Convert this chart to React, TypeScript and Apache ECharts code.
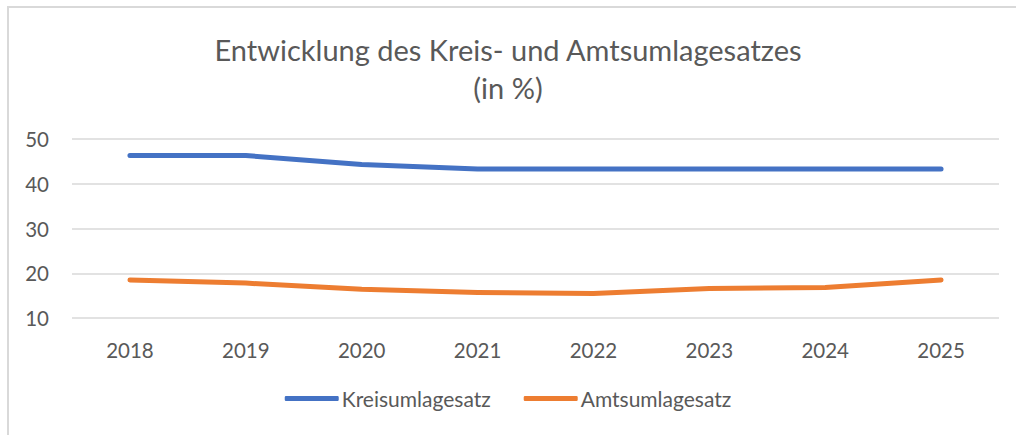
import React, { useEffect, useRef } from "react";
import * as echarts from "echarts";

const years = ["2018", "2019", "2020", "2021", "2022", "2023", "2024", "2025"];
const kreisumlagesatz = [46.3, 46.3, 44.3, 43.3, 43.3, 43.3, 43.3, 43.3];
const amtsumlagesatz = [18.5, 17.8, 16.4, 15.7, 15.5, 16.6, 16.8, 18.5];
const seriesNames = ["Kreisumlagesatz", "Amtsumlagesatz"];
const titleText = "Entwicklung des Kreis- und Amtsumlagesatzes\n(in %)";

export default function App() {
  const ref = useRef<HTMLDivElement>(null);
  useEffect(() => {
    document.body.style.margin = "0";
    const chart = echarts.init(ref.current!, null, { renderer: "svg" });
    const font = "Lato, 'Open Sans', sans-serif";
    chart.setOption({
      animation: false,
      backgroundColor: "#ffffff",
      graphic: [
        {
          type: "rect",
          shape: { x: 8, y: 7, width: 1200, height: 1000 },
          style: { fill: "none", stroke: "#d9d9d9", lineWidth: 2 },
          silent: true,
          z: -10,
        },
      ],
      title: {
        text: titleText,
        left: "center",
        top: 25,
        textStyle: {
          fontFamily: font,
          fontWeight: 400,
          fontSize: 29,
          color: "#595959",
          lineHeight: 38,
        },
      },
      legend: {
        data: seriesNames,
        bottom: 21,
        left: "center",
        icon: "roundRect",
        itemWidth: 54,
        itemHeight: 5,
        itemGap: 33,
        textStyle: { fontFamily: font, fontSize: 21, color: "#595959", padding: [0, 0, 0, -2] },
      },
      grid: { left: 72, right: 17, top: 139, bottom: 117, containLabel: false },
      xAxis: {
        type: "category",
        data: years,
        boundaryGap: true,
        axisLine: { show: false },
        axisTick: { show: false },
        axisLabel: { fontFamily: font, fontSize: 20.5, color: "#595959", margin: 21 },
      },
      yAxis: {
        type: "value",
        min: 10,
        max: 50,
        interval: 10,
        axisLine: { show: false },
        axisTick: { show: false },
        axisLabel: { fontFamily: font, fontSize: 20.5, color: "#595959", margin: 23 },
        splitLine: { lineStyle: { color: "#d9d9d9", width: 1.5 } },
      },
      series: [
        {
          name: seriesNames[0],
          type: "line",
          data: kreisumlagesatz,
          showSymbol: false,
          symbol: "none",
          lineStyle: { color: "#4472C4", width: 5, cap: "round", join: "round" },
          itemStyle: { color: "#4472C4" },
        },
        {
          name: seriesNames[1],
          type: "line",
          data: amtsumlagesatz,
          showSymbol: false,
          symbol: "none",
          lineStyle: { color: "#ED7D31", width: 5, cap: "round", join: "round" },
          itemStyle: { color: "#ED7D31" },
        },
      ],
    });
    return () => chart.dispose();
  }, []);
  return <div ref={ref} style={{ width: 1016, height: 435 }} />;
}
